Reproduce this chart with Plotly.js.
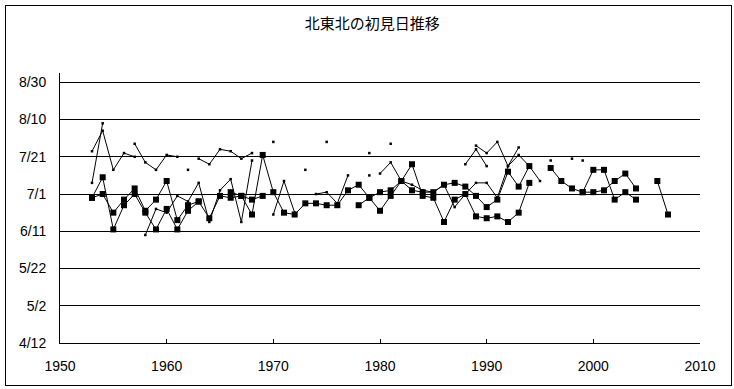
<!DOCTYPE html>
<html>
<head>
<meta charset="utf-8">
<script src="https://cdn.plot.ly/plotly-3.0.1.min.js"></script>
<style>
  html, body { margin: 0; padding: 0; background: #fff; }
  #wrap { position: relative; width: 734px; height: 389px; }
  #chart { width: 734px; height: 389px; }
  #frame { position: absolute; left: 5px; top: 5px; width: 725px; height: 379px; border: 1px solid #000; pointer-events: none; }
</style>
</head>
<body>
<div id="wrap"><div id="chart"></div><div id="frame"></div></div>
<script>
// Years 1953..2007
const years = [];
for (let y = 1953; y <= 2007; y++) years.push(y);

// Square-marker series A
const seriesA = [
  "6/29","7/10","6/12","6/25","7/1","6/21","6/12","6/23","6/12","6/22",
  "6/27","6/18","6/30","6/29","6/30","6/20","7/22","7/2","6/21","6/20",
  "6/26","6/26","6/25","6/25","7/3","7/6","6/29","7/2","7/3","7/8",
  "7/3","7/2","7/2","7/6","7/7","7/5","6/30","6/24","6/28","7/13",
  "7/5","7/16",null,"7/15","7/8","7/4","7/2","7/14","7/14","6/28",
  "7/2","6/28",null,"7/8","6/20"
];
// Square-marker series B
const seriesB = [
  "6/29","7/1","6/21","6/28","7/4","6/22","6/28","7/8","6/17","6/25",
  "6/27",null,null,"7/2","6/30","6/28","6/30",null,null,null,
  null,null,null,null,null,"6/25","6/29","6/22","6/30","7/8",
  "7/17","6/30","6/29","6/16","6/28","7/1","6/19","6/18","6/19","6/16",
  "6/21","7/7",null,null,null,null,"7/2","7/2","7/3","7/8",
  "7/12","7/4",null,null,null
];
// Thin-line series C
const seriesC = [
  "7/24","8/4","7/14","7/23","7/21",null,null,null,null,"7/14",
  null,null,null,null,null,null,null,"7/29",null,null,
  null,null,"7/29",null,null,null,"7/23",null,"7/28",null,
  null,null,null,null,null,"7/17","7/25","7/16",null,null,
  null,null,null,"7/19",null,"7/20",null,null,null,null,
  null,null,null,null,null
];
// Thin-line series D
const seriesD = [
  "7/7","8/8",null,null,"7/28","7/18","7/14","7/22","7/21",null,
  "7/20","7/17","7/25","7/24","7/20","7/23",null,null,null,null,
  "7/14",null,null,null,null,null,"7/11",null,null,null,
  null,null,null,null,null,null,"7/27","7/23","7/29","7/16",
  "7/26",null,null,null,null,null,"7/19",null,null,null,
  null,null,null,null,null
];
// Thin-line series E
const seriesE = [
  null,null,null,null,null,"6/9","6/23","6/21","6/30","6/27",
  "7/7","6/16","7/3","7/9","6/16","7/19",null,"6/20","7/8","6/21",
  null,"7/1","7/2","6/26","7/11",null,null,"7/12","7/18","7/8",
  "7/6","7/3","7/2","7/6","6/24","7/1","7/7","7/7","6/29","7/16",
  "7/22","7/16","7/8",null,null,null,null,null,null,null,
  null,null,null,null,null
];

const yTickText = ["4/12","5/2","5/22","6/11","7/1","7/21","8/10","8/30"];
const xTicks = [1950,1960,1970,1980,1990,2000,2010];

const monthStart = [0,31,59,90,120,151,181,212,243,273,304,334];
function doy(s) {
  if (s === null) return null;
  const p = s.split("/");
  return monthStart[+p[0]-1] + (+p[1]);
}
const yTickVals = yTickText.map(doy);

function thin(arr) {
  return { x: years, y: arr.map(doy), type: "scatter", mode: "lines+markers",
    line: { color: "#000", width: 1 }, marker: { symbol: "square", size: 2.5, color: "#000" },
    connectgaps: false, showlegend: false, hoverinfo: "x+y" };
}
function sq(arr) {
  return { x: years, y: arr.map(doy), type: "scatter", mode: "lines+markers",
    line: { color: "#000", width: 1 }, marker: { symbol: "square", size: 6, color: "#000" },
    connectgaps: false, showlegend: false, hoverinfo: "x+y" };
}

const data = [thin(seriesC), thin(seriesD), thin(seriesE), sq(seriesB), sq(seriesA)];

const tickFont = { family: "Liberation Sans, Arial, sans-serif", size: 14, color: "#000" };
const layout = {
  width: 734, height: 389,
  margin: { l: 60, r: 34, t: 73, b: 46, pad: 0 },
  paper_bgcolor: "#fff", plot_bgcolor: "#fff",
  title: { text: "北東北の初見日推移", font: { family: "Noto Sans CJK JP", size: 15, color: "#000" },
    x: 0.507, xref: "container", xanchor: "center", y: 0.938, yref: "container", yanchor: "middle" },
  xaxis: { range: [1950, 2010], tickmode: "array", tickvals: xTicks, ticktext: xTicks.map(String),
    ticks: "inside", ticklen: 4, tickcolor: "#000", tickwidth: 1,
    showline: true, linecolor: "#000", linewidth: 1, showgrid: false, zeroline: false,
    tickfont: tickFont, ticklabelstandoff: 10 },
  yaxis: { range: [102, 247], tickmode: "array", tickvals: yTickVals, ticktext: yTickText,
    ticks: "", showline: true, linecolor: "#000", linewidth: 1,
    showgrid: true, gridcolor: "#000", gridwidth: 1, zeroline: false,
    tickfont: tickFont, ticklabelstandoff: 10 }
};

Plotly.newPlot("chart", data, layout, { staticPlot: true, displayModeBar: false });
</script>
</body>
</html>
